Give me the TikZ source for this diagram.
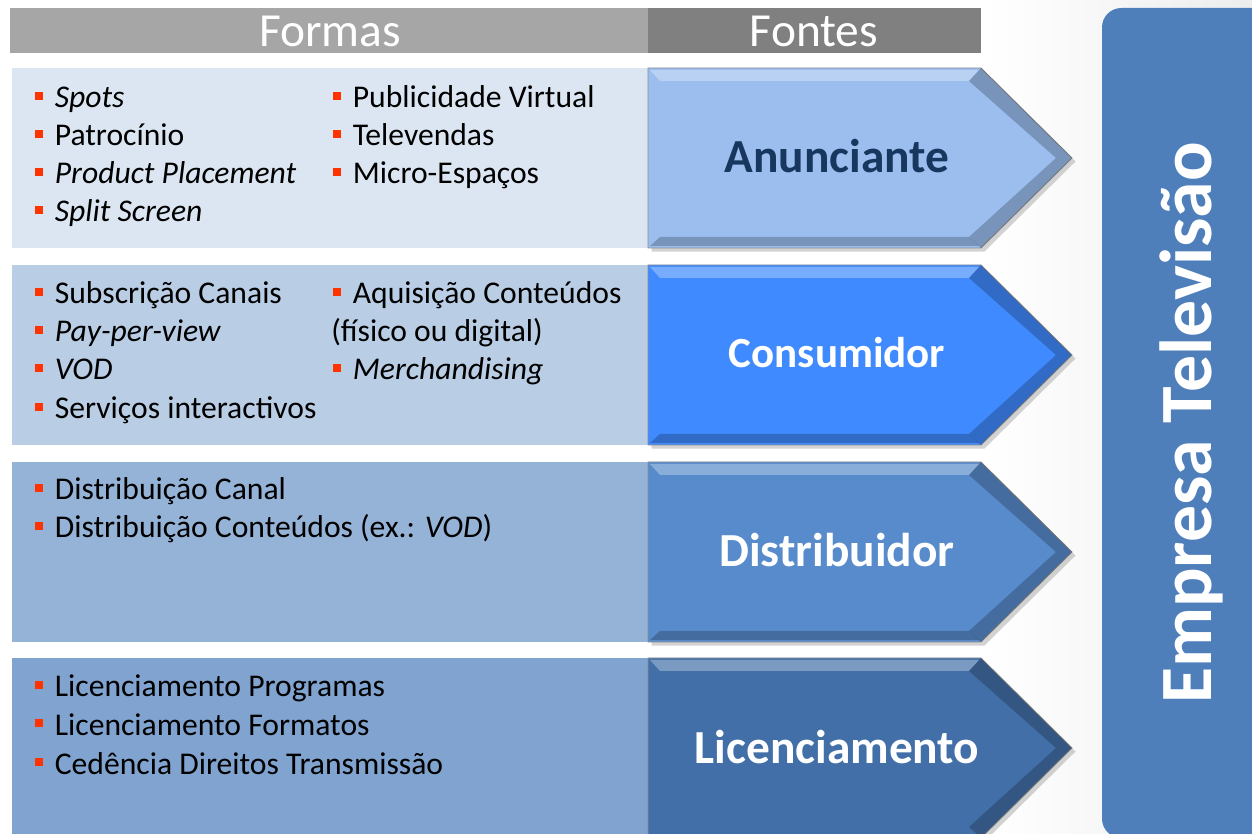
\documentclass[tikz,border=0pt]{standalone}
\usepackage{fontspec}
\setmainfont{Carlito}
\usetikzlibrary{shadows}
\usepackage{xcolor}

\definecolor{cinzaA}{HTML}{A6A6A6}
\definecolor{cinzaB}{HTML}{808080}
\definecolor{linhaA}{HTML}{DCE6F2}
\definecolor{linhaB}{HTML}{B9CDE5}
\definecolor{linhaC}{HTML}{95B3D7}
\definecolor{linhaD}{HTML}{80A4CF}
\definecolor{setaA}{HTML}{9BBEEF}
\definecolor{setaB}{HTML}{3F8AFE}
\definecolor{setaC}{HTML}{588BCB}
\definecolor{setaD}{HTML}{436FA8}
\definecolor{painel}{HTML}{4E7FBB}
\definecolor{marinho}{HTML}{17375E}
\definecolor{vermelho}{HTML}{FF3300}

\newcommand{\marca}{\textcolor{vermelho}{\rule[4.5pt]{4.5pt}{4.5pt}}\hspace{6.6pt}}

\begin{document}
\begin{tikzpicture}[x=0.02cm, y=-0.02cm,
	item/.style={anchor=base west, inner sep=0pt, font=\fontsize{18}{21}\selectfont},
	titulo/.style={anchor=base, inner sep=0pt, text=white, font=\fontsize{27}{31}\selectfont},
	fonte/.style={anchor=base, inner sep=0pt, text=white, font=\fontsize{27}{31}\selectfont\bfseries},
	seta/.style={draw=black!45, line width=0.5pt, drop shadow={shadow xshift=2pt, shadow yshift=-2pt, opacity=0.35}},
	brilho/.style={white, opacity=0.3},
	sombra/.style={black, opacity=0.22}]
	
	\useasboundingbox (0, 0) rectangle (1252, 834);
	
	% fundo à direita
	\shade[left color=white, right color=gray!14] (985, 0) rectangle (1252, 834);
	
	% cabeçalhos
	\fill[cinzaA] (10, 8) rectangle (648, 53);
	\node[titulo] (formas) at (330, 47) {Formas};
	\fill[cinzaB] (648, 8) rectangle (981, 53);
	\node[titulo] (fontes) at (814, 47) {Fontes};
	
	% Empresa Televisão
	\fill[painel, rounded corners=11pt] (1102, 8) rectangle (1300, 838);
	\node[rotate=90, anchor=base, inner sep=0pt, text=white, font=\fontsize{42}{48}\selectfont\bfseries] (empresa) at (1211, 423) {Empresa Televisão};
	
	% Anunciante
	\fill[linhaA] (12, 68) rectangle (648, 248);
	\draw[seta, fill=setaA] (648, 68) -- (981, 68) -- (1072, 158) -- (981, 248) -- (648, 248) -- cycle;
	\fill[brilho] (650, 70) -- (979, 70) -- (969, 81) -- (660, 81) -- cycle;
	\fill[sombra] (660, 237) -- (969, 237) -- (979, 246) -- (650, 246) -- cycle;
	\fill[sombra] (981, 68) -- (1072, 158) -- (981, 248) -- (969, 237) -- (1056, 158) -- (969, 81) -- cycle;
	\node[fonte, text=marinho] (anunciante) at (837, 173) {Anunciante};
	\node[item] (spots) at (35, 108) {\marca\textit{Spots}};
	\node[item] (patrocinio) at (35, 146) {\marca Patrocínio};
	\node[item] (placement) at (35, 184) {\marca\textit{Product Placement}};
	\node[item] (split) at (35, 222) {\marca\textit{Split Screen}};
	\node[item] (virtual) at (333, 108) {\marca Publicidade Virtual};
	\node[item] (televendas) at (333, 146) {\marca Televendas};
	\node[item] (micro) at (333, 184) {\marca Micro-Espaços};
	
	% Consumidor
	\fill[linhaB] (12, 265) rectangle (648, 445);
	\draw[seta, fill=setaB] (648, 265) -- (981, 265) -- (1072, 355) -- (981, 445) -- (648, 445) -- cycle;
	\fill[brilho] (650, 267) -- (979, 267) -- (969, 278) -- (660, 278) -- cycle;
	\fill[sombra] (660, 434) -- (969, 434) -- (979, 443) -- (650, 443) -- cycle;
	\fill[sombra] (981, 265) -- (1072, 355) -- (981, 445) -- (969, 434) -- (1056, 355) -- (969, 278) -- cycle;
	\node[fonte, font=\fontsize{24.5}{29}\selectfont\bfseries] (consumidor) at (837, 368) {Consumidor};
	\node[item] (subscricao) at (35, 304) {\marca Subscrição Canais};
	\node[item] (ppv) at (35, 342) {\marca\textit{Pay-per-view}};
	\node[item] (vod) at (35, 380) {\marca\textit{VOD}};
	\node[item] (servicos) at (35, 419) {\marca Serviços interactivos};
	\node[item] (aquisicao) at (333, 304) {\marca Aquisição Conteúdos};
	\node[item] (fisico) at (331, 342) {(físico ou digital)};
	\node[item] (merch) at (333, 380) {\marca\textit{Merchandising}};
	
	% Distribuidor
	\fill[linhaC] (12, 462) rectangle (648, 642);
	\draw[seta, fill=setaC] (648, 462) -- (981, 462) -- (1072, 552) -- (981, 642) -- (648, 642) -- cycle;
	\fill[brilho] (650, 464) -- (979, 464) -- (969, 475) -- (660, 475) -- cycle;
	\fill[sombra] (660, 631) -- (969, 631) -- (979, 640) -- (650, 640) -- cycle;
	\fill[sombra] (981, 462) -- (1072, 552) -- (981, 642) -- (969, 631) -- (1056, 552) -- (969, 475) -- cycle;
	\node[fonte] (distribuidor) at (837, 567) {Distribuidor};
	\node[item] (canal) at (35, 500) {\marca Distribuição Canal};
	\node[item] (conteudos) at (35, 538) {\marca Distribuição Conteúdos (ex.: \textit{VOD})};
	
	% Licenciamento
	\fill[linhaD] (12, 658) rectangle (648, 838);
	\draw[seta, fill=setaD] (648, 658) -- (981, 658) -- (1072, 748) -- (981, 838) -- (648, 838) -- cycle;
	\fill[brilho] (650, 660) -- (979, 660) -- (969, 671) -- (660, 671) -- cycle;
	\fill[sombra] (981, 658) -- (1072, 748) -- (981, 838) -- (969, 827) -- (1056, 748) -- (969, 671) -- cycle;
	\node[fonte] (licenciamento) at (837, 764) {Licenciamento};
	\node[item] (programas) at (35, 697) {\marca Licenciamento Programas};
	\node[item] (formatos) at (35, 735) {\marca Licenciamento Formatos};
	\node[item] (cedencia) at (35, 774) {\marca Cedência Direitos Transmissão};
	
\end{tikzpicture}
\end{document}
